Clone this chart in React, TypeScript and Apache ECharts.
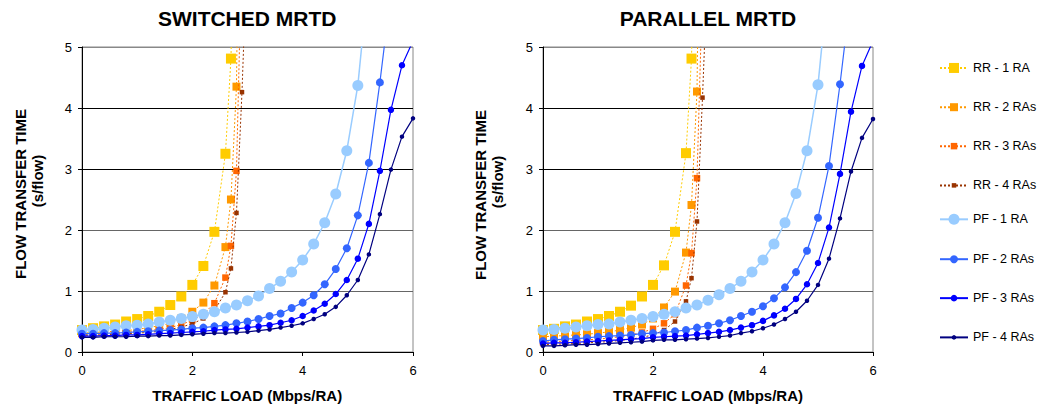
import React, { useEffect, useRef } from "react";
import * as echarts from "echarts";

// x values (Mbps/RA)
const xPF = [0, 0.2, 0.4, 0.6, 0.8, 1.0, 1.2, 1.4, 1.6, 1.8, 2.0, 2.2, 2.4, 2.6, 2.8, 3.0, 3.2, 3.4, 3.6, 3.8, 4.0, 4.2, 4.4, 4.6, 4.8, 5.0, 5.2, 5.4, 5.6, 5.8, 6.0];
const xRR = [0, 0.2, 0.4, 0.6, 0.8, 1.0, 1.2, 1.4, 1.6, 1.8, 2.0, 2.2, 2.4, 2.6, 2.7, 2.8, 2.9, 3.0];

const seriesNames = ["RR - 1 RA", "RR - 2 RAs", "RR - 3 RAs", "RR - 4 RAs", "PF - 1 RA", "PF - 2 RAs", "PF - 3 RAs", "PF - 4 RAs"];
const chartTitles = ["SWITCHED MRTD", "PARALLEL MRTD"];
const xAxisTitle = "TRAFFIC LOAD (Mbps/RA)";
const yAxisTitle1 = "FLOW TRANSFER TIME";
const yAxisTitle2 = "(s/flow)";

// SWITCHED MRTD (s/flow)
const swRR1 = [0.36, 0.39, 0.42, 0.45, 0.50, 0.54, 0.59, 0.66, 0.77, 0.91, 1.10, 1.41, 1.97, 3.25, 4.81, 9.0];
const swRR2 = [0.31, 0.32, 0.33, 0.34, 0.35, 0.37, 0.40, 0.43, 0.47, 0.55, 0.66, 0.81, 1.09, 1.72, 2.50, 4.35, 12.0];
const swRR3 = [0.29, 0.30, 0.30, 0.31, 0.32, 0.34, 0.35, 0.37, 0.40, 0.45, 0.52, 0.62, 0.80, 1.22, 1.74, 2.97, 6.7];
const swRR4 = [0.27, 0.28, 0.28, 0.29, 0.30, 0.31, 0.32, 0.34, 0.37, 0.41, 0.46, 0.55, 0.68, 0.98, 1.37, 2.28, 4.26, 6.8];
const swPF1 = [0.36, 0.37, 0.39, 0.41, 0.43, 0.44, 0.46, 0.49, 0.52, 0.55, 0.58, 0.62, 0.66, 0.72, 0.77, 0.84, 0.92, 1.04, 1.16, 1.31, 1.51, 1.77, 2.12, 2.59, 3.30, 4.37, 6.2];
const swPF2 = [0.30, 0.30, 0.31, 0.31, 0.32, 0.33, 0.34, 0.35, 0.36, 0.37, 0.39, 0.40, 0.42, 0.44, 0.47, 0.50, 0.54, 0.59, 0.63, 0.72, 0.81, 0.93, 1.11, 1.36, 1.70, 2.24, 3.10, 4.42, 5.9];
const swPF3 = [0.26, 0.26, 0.27, 0.27, 0.28, 0.28, 0.29, 0.30, 0.31, 0.32, 0.33, 0.34, 0.36, 0.37, 0.38, 0.40, 0.42, 0.44, 0.48, 0.52, 0.59, 0.68, 0.79, 0.95, 1.18, 1.53, 2.10, 2.97, 3.97, 4.70, 5.1];
const swPF4 = [0.24, 0.24, 0.25, 0.25, 0.25, 0.26, 0.26, 0.27, 0.27, 0.28, 0.29, 0.30, 0.31, 0.31, 0.32, 0.33, 0.35, 0.37, 0.40, 0.43, 0.47, 0.54, 0.62, 0.74, 0.93, 1.18, 1.60, 2.26, 2.99, 3.53, 3.83];

// PARALLEL MRTD (s/flow)
const paRR1 = [0.36, 0.38, 0.42, 0.45, 0.50, 0.54, 0.59, 0.66, 0.76, 0.91, 1.10, 1.42, 1.97, 3.26, 4.81, 9.0];
const paRR2 = [0.25, 0.26, 0.27, 0.28, 0.29, 0.31, 0.33, 0.36, 0.40, 0.45, 0.55, 0.73, 0.99, 1.63, 2.41, 4.27, 12.0];
const paRR3 = [0.16, 0.17, 0.18, 0.19, 0.20, 0.21, 0.23, 0.25, 0.28, 0.32, 0.38, 0.47, 0.62, 1.09, 1.62, 2.85, 6.0];
const paRR4 = [0.12, 0.13, 0.13, 0.14, 0.15, 0.16, 0.17, 0.19, 0.21, 0.24, 0.28, 0.36, 0.50, 0.83, 1.21, 2.14, 4.17, 6.5];
const paPF1 = [0.36, 0.37, 0.39, 0.41, 0.43, 0.45, 0.46, 0.49, 0.52, 0.55, 0.58, 0.62, 0.66, 0.72, 0.77, 0.85, 0.94, 1.04, 1.16, 1.31, 1.51, 1.77, 2.12, 2.60, 3.30, 4.38, 6.2];
const paPF2 = [0.18, 0.20, 0.21, 0.22, 0.23, 0.25, 0.26, 0.27, 0.28, 0.30, 0.31, 0.32, 0.34, 0.36, 0.40, 0.43, 0.47, 0.52, 0.59, 0.66, 0.75, 0.88, 1.06, 1.31, 1.66, 2.20, 3.05, 4.39, 5.9];
const paPF3 = [0.14, 0.15, 0.15, 0.16, 0.17, 0.18, 0.19, 0.20, 0.21, 0.22, 0.24, 0.25, 0.26, 0.27, 0.29, 0.31, 0.33, 0.36, 0.40, 0.44, 0.51, 0.60, 0.71, 0.87, 1.11, 1.46, 2.04, 2.92, 3.94, 4.69, 5.1];
const paPF4 = [0.10, 0.10, 0.11, 0.12, 0.12, 0.13, 0.14, 0.15, 0.16, 0.17, 0.19, 0.20, 0.20, 0.21, 0.22, 0.23, 0.25, 0.27, 0.31, 0.34, 0.39, 0.45, 0.54, 0.66, 0.84, 1.10, 1.53, 2.19, 2.96, 3.51, 3.82];

const xTicks = [0, 2, 4, 6];
const yTicks = [0, 1, 2, 3, 4, 5];

const FONT = '"Liberation Sans", Arial, Helvetica, sans-serif';

const styles = [
  { color: "#FFCC00", symbol: "rect", size: 10, dotted: true, width: 1 },
  { color: "#FF9900", symbol: "rect", size: 8, dotted: true, width: 1 },
  { color: "#FF6600", symbol: "rect", size: 6.5, dotted: true, width: 1 },
  { color: "#993300", symbol: "rect", size: 4.5, dotted: true, width: 1 },
  { color: "#99CCFF", symbol: "circle", size: 11, dotted: false, width: 1.5 },
  { color: "#3366FF", symbol: "circle", size: 8, dotted: false, width: 1.2 },
  { color: "#0000FF", symbol: "circle", size: 6.5, dotted: false, width: 1.2 },
  { color: "#000080", symbol: "circle", size: 4.5, dotted: false, width: 1.2 },
];

function pairs(xs: number[], ys: number[]) {
  return ys.map((y, i) => [xs[i], y]);
}

export default function App() {
  const ref = useRef<HTMLDivElement>(null);

  useEffect(() => {
    if (!ref.current) return;
    const chart = echarts.init(ref.current, null, { renderer: "svg" });

    const leftData = [swRR1, swRR2, swRR3, swRR4, swPF1, swPF2, swPF3, swPF4];
    const rightData = [paRR1, paRR2, paRR3, paRR4, paPF1, paPF2, paPF3, paPF4];

    const grids = [
      { left: 82, top: 47, width: 331, height: 305 },
      { left: 543, top: 47, width: 330, height: 305 },
    ];

    const mkX = (gi: number) => ({
      type: "value",
      gridIndex: gi,
      min: xTicks[0],
      max: xTicks[xTicks.length - 1],
      interval: 2,
      axisLine: { show: true, onZero: false, lineStyle: { color: "#000", width: 1 } },
      axisTick: { show: true, inside: false, length: 4, lineStyle: { color: "#000" } },
      axisLabel: { color: "#000", fontSize: 13, fontFamily: FONT, margin: 12 },
      splitLine: { show: false },
    });
    const mkY = (gi: number) => ({
      type: "value",
      gridIndex: gi,
      min: yTicks[0],
      max: yTicks[yTicks.length - 1],
      interval: 1,
      axisLine: { show: true, onZero: false, lineStyle: { color: "#000", width: 1 } },
      axisTick: { show: true, inside: false, length: 4, lineStyle: { color: "#000" } },
      axisLabel: { color: "#000", fontSize: 13, fontFamily: FONT, margin: 10 },
      splitLine: {
        show: true,
        lineStyle: { color: ["#000", "#666", "#666", "#000", "#000", "#888"], width: 1 },
      },
    });

    const series: any[] = [];
    [leftData, rightData].forEach((set, gi) => {
      set.forEach((vals, i) => {
        const st = styles[i];
        const xs = i < 4 ? xRR : xPF;
        series.push({
          name: seriesNames[i],
          type: "line",
          xAxisIndex: gi,
          yAxisIndex: gi,
          data: pairs(xs, vals),
          symbol: st.symbol,
          symbolSize: st.size,
          showSymbol: true,
          clip: true,
          smooth: false,
          itemStyle: { color: st.color, borderWidth: 0 },
          lineStyle: {
            color: st.color,
            width: st.width,
            type: st.dotted ? [2, 2] : "solid",
          },
          emphasis: { disabled: true },
          z: 2 + i,
        });
      });
    });

    const legends = seriesNames.map((n, i) => {
      const h = styles[i].size / 0.8;
      return {
        data: [n],
        orient: "vertical",
        left: 939,
        top: 67.7 + i * 38 - h / 2,
        itemWidth: 28,
        itemHeight: h,
        itemGap: 0,
        padding: 0,
        selectedMode: false,
        textStyle: { color: "#000", fontSize: 12.5, fontFamily: FONT },
      };
    });

    const plotCenters = [247.2, 708];
    const graphic: any[] = [];
    plotCenters.forEach((cx, gi) => {
      graphic.push({
        type: "text",
        x: cx,
        y: 18,
        style: { text: chartTitles[gi], align: "center", verticalAlign: "middle", font: `bold 21px ${FONT}`, fill: "#000" },
      });
      graphic.push({
        type: "text",
        x: cx,
        y: 395,
        style: { text: xAxisTitle, align: "center", verticalAlign: "middle", font: `bold 15px ${FONT}`, fill: "#000" },
      });
    });
    const yTitlePos = [
      { x1: 20, y1: 194, x2: 37, y2: 181 },
      { x1: 480, y1: 195, x2: 497.5, y2: 182 },
    ];
    yTitlePos.forEach((p) => {
      graphic.push({
        type: "text",
        x: p.x1,
        y: p.y1,
        rotation: Math.PI / 2,
        style: { text: yAxisTitle1, align: "center", verticalAlign: "middle", font: `bold 15px ${FONT}`, fill: "#000" },
      });
      graphic.push({
        type: "text",
        x: p.x2,
        y: p.y2,
        rotation: Math.PI / 2,
        style: { text: yAxisTitle2, align: "center", verticalAlign: "middle", font: `bold 15px ${FONT}`, fill: "#000" },
      });
    });

    chart.setOption({
      animation: false,
      backgroundColor: "#fff",
      textStyle: { fontFamily: FONT },
      grid: grids.map((g) => ({ ...g, show: true, borderColor: "#888", borderWidth: 1, backgroundColor: "transparent" })),
      xAxis: [mkX(0), mkX(1)],
      yAxis: [mkY(0), mkY(1)],
      legend: legends,
      series,
      graphic,
    });

    return () => chart.dispose();
  }, []);

  return (
    <div
      ref={ref}
      style={{ position: "fixed", left: 0, top: 0, width: 1039, height: 408, background: "#fff" }}
    />
  );
}
